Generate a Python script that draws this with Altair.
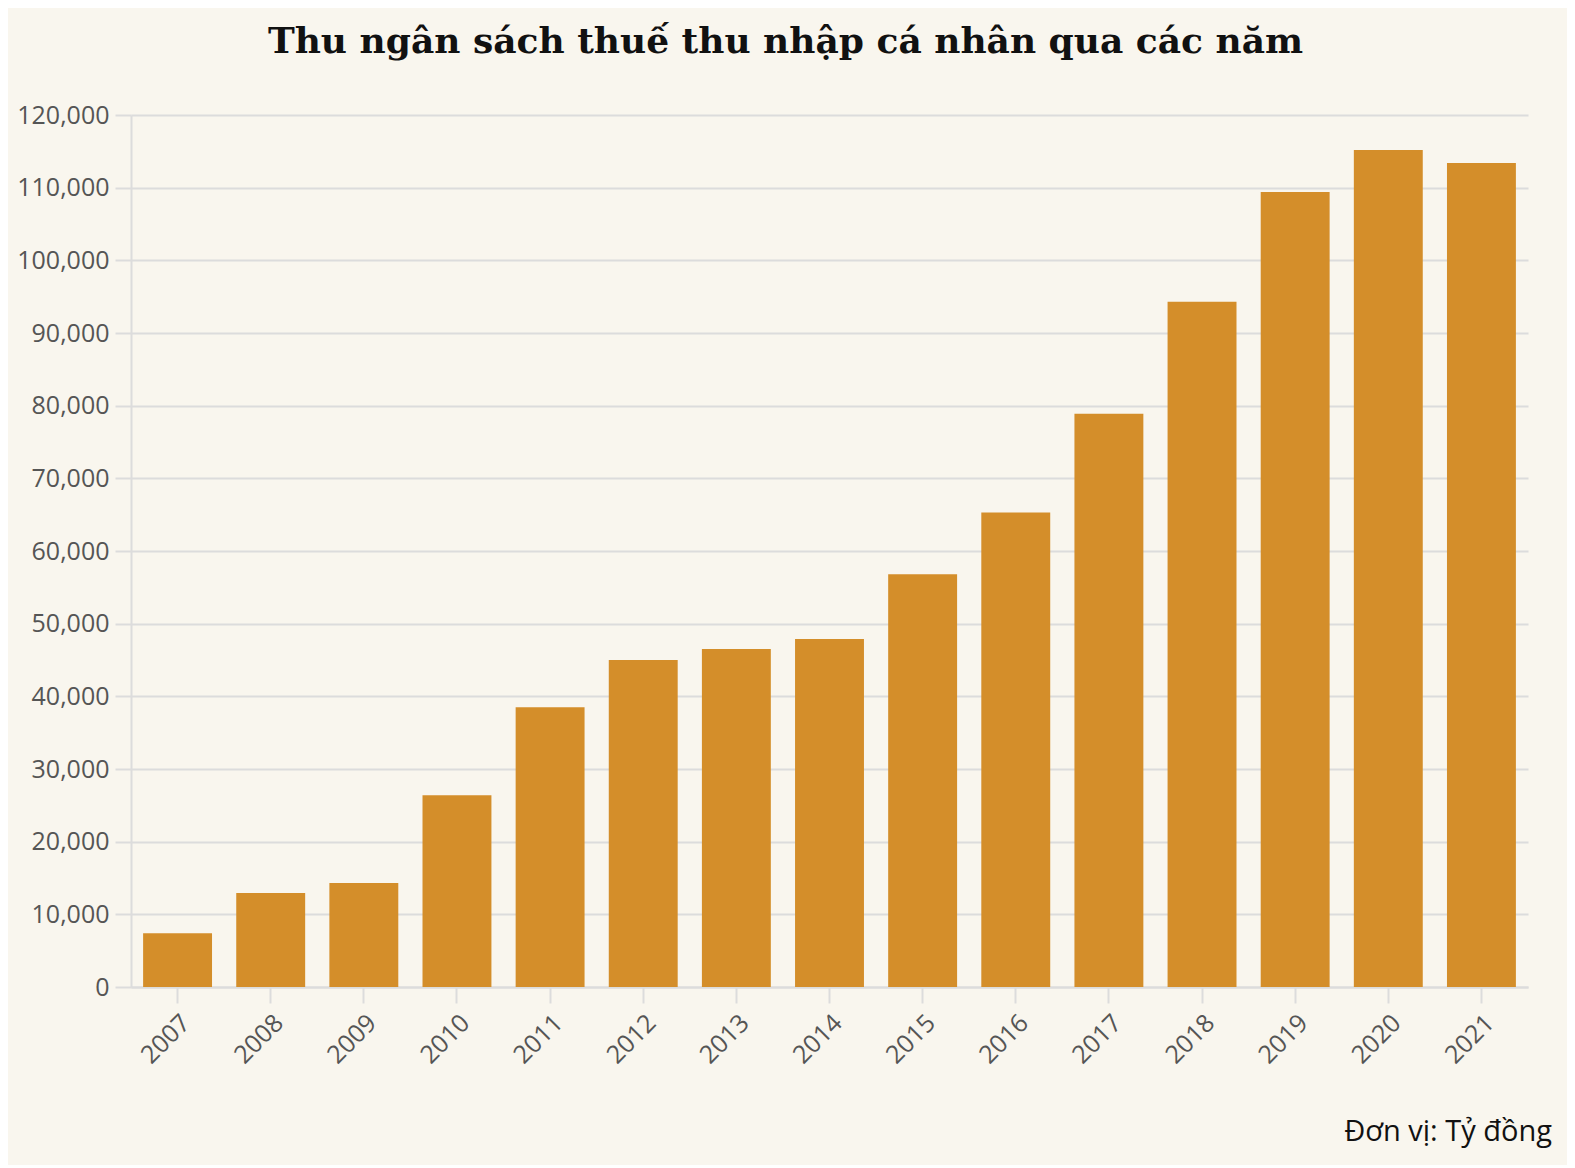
import altair as alt
import pandas as pd

years = ["2007", "2008", "2009", "2010", "2011", "2012", "2013", "2014",
         "2015", "2016", "2017", "2018", "2019", "2020", "2021"]
values = [7400, 12950, 14300, 26400, 38500, 45000, 46500, 47900,
          56800, 65300, 78900, 94300, 109400, 115200, 113400]
title_text = "Thu ngân sách thuế thu nhập cá nhân qua các năm"
unit_note = ["Đơn vị: Tỷ đồng"]

df = pd.DataFrame({"year": years, "value": values})
note_df = pd.DataFrame({"t": unit_note})

BG = "#f9f6ee"
GRID = "#dcdcdc"
BAR = "#d48e2a"
W, H = 1397, 872

bars = alt.Chart(df).mark_bar(color=BAR).encode(
    x=alt.X("year:N", title=None,
            scale=alt.Scale(paddingInner=0.26, paddingOuter=0.13),
            axis=alt.Axis(labelAngle=-45, labelFont="Open Sans", labelFontSize=25,
                          labelColor="#555555", tickColor=GRID, tickSize=16,
                          tickWidth=2, domainColor=GRID, domainWidth=2,
                          labelPadding=7, grid=False)),
    y=alt.Y("value:Q", title=None,
            scale=alt.Scale(domain=[0, 120000], nice=False),
            axis=alt.Axis(values=list(range(0, 120001, 10000)), format=",d",
                          labelFont="Open Sans", labelFontSize=25,
                          labelColor="#555555", tickColor=GRID, tickSize=16,
                          tickWidth=2, domainColor=GRID, domainWidth=2,
                          gridColor=GRID, gridWidth=2, labelPadding=6)),
)

note = alt.Chart(note_df).mark_text(
    align="right", baseline="middle", font="Open Sans", fontSize=29, color="#111111"
).encode(
    x=alt.value(1421), y=alt.value(1017), text="t:N"
)

chart = alt.layer(bars, note).properties(
    width=W, height=H,
    background=BG,
    padding={"left": 123, "top": 107, "right": 39, "bottom": 178},
    autosize=alt.AutoSizeParams(type="none"),
    title=alt.TitleParams(title_text, font="DejaVu Serif", fontSize=36,
                          fontWeight="bold", color="#111111", anchor="middle",
                          dx=-44, offset=42),
).configure_view(stroke=None)

chart.save("out.html", embed_options={"renderer": "svg", "actions": False})
